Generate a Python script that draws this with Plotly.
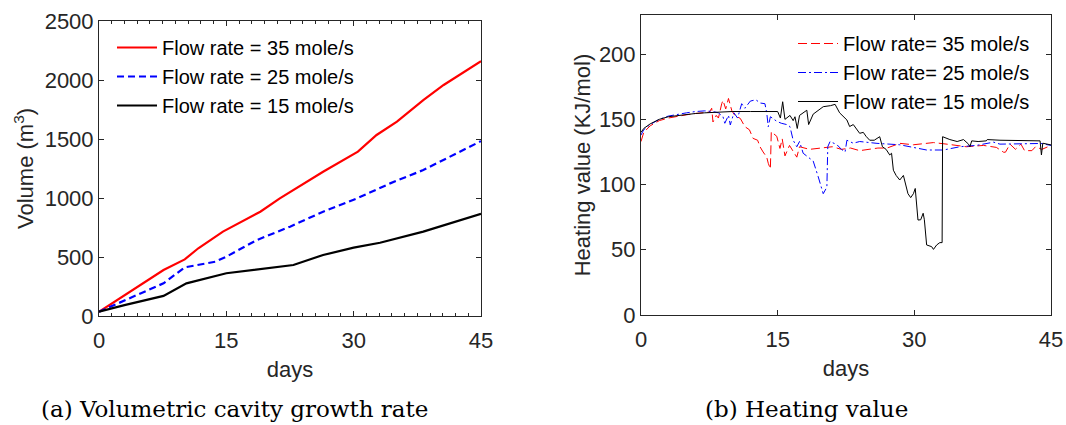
import plotly.graph_objects as go

# ---------------- data: (a) volumetric cavity growth ----------------
days_35 = [0, 2, 4, 7.6, 10.1, 11.7, 14.6, 19.0, 21.3, 26.4, 30.5, 32.7, 35.1, 38.2, 40.6, 42.1, 45]
vol_35 = [36, 130, 225, 390, 480, 574, 715, 884, 997, 1223, 1393, 1534, 1647, 1830, 1958, 2028, 2160]

days_25 = [0, 2, 4, 7.6, 10.1, 13.7, 15.0, 18.6, 22.5, 26.4, 30.4, 34.3, 38.2, 41.3, 45]
vol_25 = [36, 100, 160, 277, 412, 460, 503, 644, 757, 884, 997, 1124, 1237, 1350, 1482]

days_15 = [0, 3, 7.6, 10.3, 15.0, 19.4, 22.9, 26.4, 30.0, 33.1, 38.2, 45]
vol_15 = [36, 92, 170, 277, 362, 404, 432, 517, 579, 621, 715, 866]

# ---------------- data: (b) heating value ----------------
hd_35 = [0, 0.3, 1, 2, 3, 4, 5, 6, 7, 7.5, 7.76, 7.9, 8.26, 8.5, 8.86, 9.0, 9.3, 9.6, 9.97, 10.3,
         10.9, 11.4, 11.9, 12.3, 12.8, 13.06, 13.4, 13.8, 13.97, 14.2, 14.3, 14.9, 15.25, 15.5, 15.8,
         16.3, 17.1, 17.4, 18.5, 19.7, 21, 22, 23, 24, 25, 26, 27, 28.4, 29.9, 31, 32.1, 33.9, 35.7,
         37.6, 39.0, 39.8, 40.0, 40.5, 41.1, 41.7, 42.1, 42.9, 43.3, 44, 45]
hv_35 = [133, 140, 145, 149, 151, 152.5, 153.5, 154.5, 155, 155.5, 158.5, 148, 153, 151, 162, 164.5, 158, 166, 156.6, 153,
         150.7, 144.4, 142, 135.4, 134, 129, 125, 121, 116.3, 112, 140.5, 137, 127.7, 135, 122,
         130, 121, 129, 127, 128, 129, 127, 128, 126, 127, 128, 128, 131.6, 130.5, 131.5, 132.2, 130.7, 129,
         130, 128.5, 124.8, 124.8, 131, 127, 131, 126, 126, 129, 127, 130]

hd_25 = [0, 0.3, 1, 2, 3, 4, 5, 6, 7, 7.9, 8.5, 9.0, 9.2, 9.6, 9.8, 10.2, 10.6, 11.05, 11.4, 12.0,
         12.6, 13.1, 13.6, 13.8, 13.97, 14.2, 14.9, 15.4, 16.0, 16.35, 16.7, 17.1, 17.4, 17.8, 18.4,
         18.9, 19.45, 20.0, 20.4, 20.5, 20.75, 21.5, 22.0, 22.4, 22.6, 23.3, 24.0, 25.9, 28.4, 29.6,
         30.6, 31.35, 33.2, 35.0, 36.8, 38.7, 39.4, 42.4, 43.9, 45]
hv_25 = [138, 142, 146, 150, 152.5, 154, 155, 156, 156.5, 156, 155, 152, 147, 153, 145.7, 155, 151, 162, 158.5, 164,
         165, 162.5, 162, 155, 144.4, 152, 148.5, 147, 146, 144.4, 134, 129, 133, 124, 121,
         118, 106, 93, 98, 129, 133, 130.6, 127, 125, 134, 131.7, 133, 131.6, 130.5, 129,
         127.7, 126.5, 126.5, 129, 130, 132.5, 131, 131.6, 131.5, 130]

hd_15 = [0, 0.3, 1, 2, 3, 4, 5, 6, 7, 8, 10, 12, 15, 15.3, 15.55, 15.8, 16.1, 16.35, 16.7, 16.9,
         17.15, 17.4, 18.2, 18.4, 18.9, 19.5, 20.0, 20.8, 21.3, 21.8, 22.2, 22.6, 22.9, 23.3, 24.0,
         24.4, 24.7, 25.1, 25.6, 26.2, 26.5, 26.9, 27.3, 27.5, 27.7, 28.0, 28.4, 28.8, 29.3, 29.6,
         29.9, 30.1, 30.4, 30.7, 30.97, 31.1, 31.35, 31.9, 32.1, 32.45, 32.8, 33.05, 33.1, 33.9, 34.7,
         35.4, 35.95, 36.1, 36.3, 37.0, 37.9, 38.0, 39.4, 43.8, 43.95, 44.1, 45]
hv_15 = [140, 143, 146.5, 150, 152, 153, 154, 154.5, 155, 155.5, 156, 156, 156, 151, 163.5, 150, 152, 153, 149, 152,
         143, 153, 157, 146, 154, 157, 159.7, 160.5, 161.5, 155, 152, 149.5, 144.5, 146, 139.3,
         140, 137, 134, 134, 136.7, 129, 127, 122.7, 124, 111, 107, 103.5, 107, 93, 90,
         93, 97, 72.8, 73, 78, 73, 53.7, 52.4, 50.3, 53.7, 55.5, 55.5, 136.7, 134.5, 133,
         134.5, 131, 129, 133.5, 133, 133.5, 134.5, 134, 133.5, 122.7, 131.7, 130.4]

x_ticks = [0, 15, 30, 45]
vol_ticks = [0, 500, 1000, 1500, 2000, 2500]
hv_ticks = [0, 50, 100, 150, 200]
names_a = ["Flow rate = 35 mole/s", "Flow rate = 25 mole/s", "Flow rate = 15 mole/s"]
names_b = ["Flow rate= 35 mole/s", "Flow rate= 25 mole/s", "Flow rate= 15 mole/s"]
captions = ["(a) Volumetric cavity growth rate", "(b) Heating value"]

W, H = 1066, 425
AX = "#262626"
SANS = "Liberation Sans, Arial, sans-serif"
TICKF = dict(family=SANS, size=22, color=AX)
TITLEF = dict(family=SANS, size=22, color=AX)

fig = go.Figure()
fig.add_trace(go.Scatter(x=days_35, y=vol_35, mode="lines", name=names_a[0],
                         line=dict(color="#ff0000", width=2.2), xaxis="x", yaxis="y", legend="legend"))
fig.add_trace(go.Scatter(x=days_25, y=vol_25, mode="lines", name=names_a[1],
                         line=dict(color="#0000ff", width=2.2, dash="7px,4px"), xaxis="x", yaxis="y", legend="legend"))
fig.add_trace(go.Scatter(x=days_15, y=vol_15, mode="lines", name=names_a[2],
                         line=dict(color="#000000", width=2.2), xaxis="x", yaxis="y", legend="legend"))

fig.add_trace(go.Scatter(x=hd_35, y=hv_35, mode="lines", name=names_b[0],
                         line=dict(color="#ff0000", width=1, dash="9px,4px"), xaxis="x2", yaxis="y2", legend="legend2"))
fig.add_trace(go.Scatter(x=hd_25, y=hv_25, mode="lines", name=names_b[1],
                         line=dict(color="#0000ff", width=1, dash="8px,3px,2px,3px"), xaxis="x2", yaxis="y2", legend="legend2"))
fig.add_trace(go.Scatter(x=hd_15, y=hv_15, mode="lines", name=names_b[2],
                         line=dict(color="#000000", width=1), xaxis="x2", yaxis="y2", legend="legend2"))

def ax_common():
    return dict(showline=True, linecolor=AX, linewidth=1, mirror="ticks", ticks="inside",
                ticklen=5, tickcolor=AX, showgrid=False, zeroline=False, tickfont=TICKF,
                automargin=False)

xa = ax_common()
xa.update(domain=[99 / W, 481 / W], range=[0, 45], tickvals=x_ticks, anchor="y",
          ticklabelstandoff=5,
          minor=dict(dtick=1.5, tick0=0, ticks="inside", ticklen=3, tickcolor=AX),
          title=dict(text="days", font=TITLEF, standoff=9))
ya = ax_common()
ya.update(domain=[1 - 316 / H, 1 - 21 / H], range=[0, 2500], tickvals=vol_ticks, anchor="x",
          title=dict(text="Volume (m<sup>3</sup>)", font=TITLEF, standoff=4))
xb = ax_common()
xb.update(domain=[641 / W, 1051 / W], range=[0, 45], tickvals=x_ticks, anchor="y2",
          ticklabelstandoff=5,
          title=dict(text="days", font=TITLEF, standoff=9))
yb = ax_common()
yb.update(domain=[1 - 315 / H, 1 - 15 / H], range=[0, 230], tickvals=hv_ticks, anchor="x2",
          title=dict(text="Heating value (KJ/mol)", font=TITLEF, standoff=2))

LEGF = dict(family=SANS, size=20, color="#000000")
fig.update_layout(
    width=W, height=H, margin=dict(l=0, r=0, t=0, b=0, autoexpand=False),
    paper_bgcolor="white", plot_bgcolor="white",
    xaxis=xa, yaxis=ya, xaxis2=xb, yaxis2=yb,
    legend=dict(x=112 / W, y=1 - 28 / H, xanchor="left", yanchor="top", bgcolor="rgba(0,0,0,0)",
                font=LEGF, tracegroupgap=0, itemwidth=40),
    legend2=dict(x=793 / W, y=1 - 24 / H, xanchor="left", yanchor="top", bgcolor="rgba(0,0,0,0)",
                 font=LEGF, tracegroupgap=0, itemwidth=40),
    annotations=[
        dict(text=captions[0], x=234 / W, y=1 - 409 / H, xref="paper", yref="paper",
             xanchor="center", yanchor="middle", showarrow=False,
             font=dict(family="DejaVu Serif, serif", size=23, color="#000000")),
        dict(text=captions[1], x=806 / W, y=1 - 409 / H, xref="paper", yref="paper",
             xanchor="center", yanchor="middle", showarrow=False,
             font=dict(family="DejaVu Serif, serif", size=23, color="#000000")),
    ],
)

fig.write_html("out.html", config={"displayModeBar": False},
               post_script="document.body.style.margin='0';document.body.style.padding='0';"
                           "document.body.style.overflow='hidden';")
